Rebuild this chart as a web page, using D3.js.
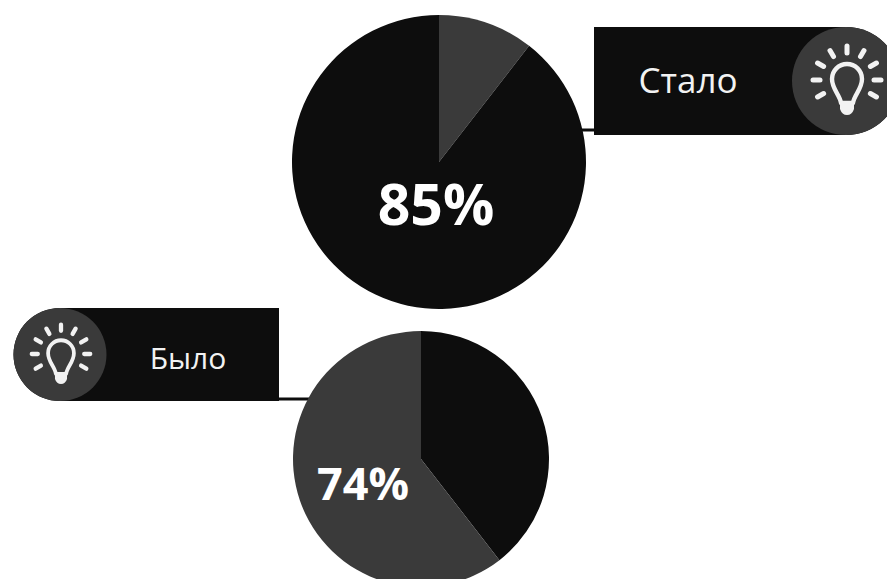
<!DOCTYPE html>
<html>
<head>
<meta charset="utf-8">
<style>
  html, body { margin: 0; padding: 0; background: #fff; }
  svg { display: block; font-family: "Open Sans", sans-serif; }
</style>
<script src="https://cdn.jsdelivr.net/npm/d3@7"></script>
</head>
<body>
<svg class="chart" width="887" height="579"></svg>
<script>
const titles = ["Стало", "Было"];
const percentLabels = ["85%", "74%"];
// slice shares measured clockwise from 12 o'clock, as drawn in the picture
const sliceCategories = ["first", "second"];
const staloShares = [10.5, 89.5];
const byloShares = [39.5, 60.5];
const staloColors = ["#3a3a3a", "#0d0d0d"];
const byloColors = ["#0d0d0d", "#3a3a3a"];
const rayAngles = [-120, -90, -60, -30, 0, 30, 60, 90, 120];

const dark = "#0d0d0d";
const grey = "#3a3a3a";

const svg = d3.select(".chart");

const pie = d3.pie().sort(null).value((d) => d.share);

function drawPie(cx, cy, r, shares, colors) {
  const data = sliceCategories.map((name, i) => ({ name, share: shares[i], color: colors[i] }));
  const arc = d3.arc().innerRadius(0).outerRadius(r);
  svg
    .append("g")
    .attr("transform", `translate(${cx},${cy})`)
    .selectAll("path")
    .data(pie(data))
    .join("path")
    .attr("d", arc)
    .attr("fill", (d) => d.data.color);
}

// Bulb icon, k = 1 is the size in the upper label
function drawBulb(cx, cy, k) {
  const g = svg.append("g").attr("transform", `translate(${cx},${cy}) scale(${k})`);

  g.selectAll("line")
    .data(rayAngles)
    .join("line")
    .attr("x1", (d) => 27 * Math.sin((d * Math.PI) / 180))
    .attr("y1", (d) => -27 * Math.cos((d * Math.PI) / 180))
    .attr("x2", (d) => 34 * Math.sin((d * Math.PI) / 180))
    .attr("y2", (d) => -34 * Math.cos((d * Math.PI) / 180))
    .attr("stroke", "#f2f2f2")
    .attr("stroke-width", 5)
    .attr("stroke-linecap", "round");

  g.append("path")
    .attr("d", "M-6,23 C-7,15 -15,9 -15,-1 A15,15 0 1 1 15,-1 C15,9 7,15 6,23 Z")
    .attr("fill", "none")
    .attr("stroke", "#f2f2f2")
    .attr("stroke-width", 4.4)
    .attr("stroke-linejoin", "round");

  g.append("path")
    .attr("d", "M-7,22 L7,22 L7,29 Q5,35 0,35 Q-5,35 -7,29 Z")
    .attr("fill", "#f2f2f2");
}

// Connectors
svg.append("line")
  .attr("x1", 575).attr("x2", 596).attr("y1", 130).attr("y2", 130)
  .attr("stroke", dark).attr("stroke-width", 3);
svg.append("line")
  .attr("x1", 277).attr("x2", 320).attr("y1", 399).attr("y2", 399)
  .attr("stroke", dark).attr("stroke-width", 3);

drawPie(439, 162, 147, staloShares, staloColors);
drawPie(421, 459, 128, byloShares, byloColors);

// Upper label
svg.append("path")
  .attr("d", "M594,27 H846 A54,54 0 0 1 846,135 H594 Z")
  .attr("fill", dark);
svg.append("circle").attr("cx", 846).attr("cy", 81).attr("r", 54).attr("fill", grey);
drawBulb(847, 80, 1);

// Lower label
svg.append("path")
  .attr("d", "M279,308 H60 A46.5,46.5 0 0 0 60,401 H279 Z")
  .attr("fill", dark);
svg.append("circle").attr("cx", 60).attr("cy", 354.5).attr("r", 46.5).attr("fill", grey);
drawBulb(61, 354, 0.86);

// Text
svg.append("text")
  .attr("x", 688).attr("y", 93)
  .attr("text-anchor", "middle")
  .attr("font-size", 35)
  .attr("fill", "#f2f2f2")
  .text(titles[0]);
svg.append("text")
  .attr("x", 188).attr("y", 369)
  .attr("text-anchor", "middle")
  .attr("font-size", 30)
  .attr("fill", "#f2f2f2")
  .text(titles[1]);
svg.append("text")
  .attr("x", 436).attr("y", 225)
  .attr("text-anchor", "middle")
  .attr("font-size", 57)
  .attr("font-weight", 700)
  .attr("fill", "#fff")
  .text(percentLabels[0]);
svg.append("text")
  .attr("x", 363).attr("y", 500)
  .attr("text-anchor", "middle")
  .attr("font-size", 45)
  .attr("font-weight", 700)
  .attr("fill", "#fff")
  .text(percentLabels[1]);
</script>
</body>
</html>
